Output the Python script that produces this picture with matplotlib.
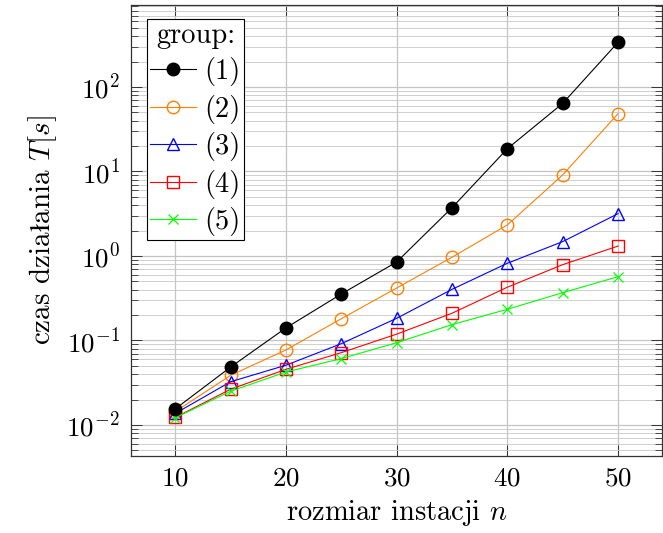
import matplotlib
matplotlib.use("Agg")
import matplotlib.pyplot as plt
from matplotlib.ticker import LogLocator, NullFormatter

plt.rcParams['mathtext.fontset'] = 'cm'
plt.rcParams['font.family'] = ['cmr10', 'DejaVu Serif']
plt.rcParams['axes.formatter.use_mathtext'] = True

# instance sizes and run times
n = [10, 15, 20, 25, 30, 35, 40, 45, 50]
t1 = [0.0155, 0.0485, 0.141, 0.355, 0.849, 3.73, 18.6, 64.0, 338.0]
t2 = [0.0144, 0.0387, 0.0773, 0.181, 0.418, 0.966, 2.33, 9.1, 48.3]
t3 = [0.0137, 0.0325, 0.051, 0.0917, 0.183, 0.403, 0.82, 1.48, 3.17]
t4 = [0.0123, 0.0265, 0.0456, 0.0718, 0.119, 0.21, 0.427, 0.79, 1.31]
t5 = [0.0122, 0.0251, 0.0424, 0.061, 0.0942, 0.154, 0.234, 0.368, 0.569]
labels = ['(1)', '(2)', '(3)', '(4)', '(5)']

fs = 19.5

fig = plt.figure(figsize=(6.63, 5.33), dpi=100)
ax = fig.add_axes([131 / 663, 1 - 456 / 533, 531.3 / 663, (456 - 4.7) / 533])

ax.plot(n, t1, color='black', lw=0.8, marker='o', ms=9, mfc='black', label=labels[0], zorder=5)
ax.plot(n, t2, color=(1, 0.5, 0), lw=0.8, marker='o', ms=9, mfc='none', label=labels[1], zorder=4)
ax.plot(n, t3, color='blue', lw=0.8, marker='^', ms=8.5, mfc='none', label=labels[2], zorder=4)
ax.plot(n, t4, color='red', lw=0.8, marker='s', ms=8.5, mfc='none', label=labels[3], zorder=4)
ax.plot(n, t5, color=(0, 1, 0), lw=0.8, marker='x', ms=7, mew=0.9, label=labels[4], zorder=4)

ax.set_yscale('log')
ax.set_xlim(6, 54)
ax.set_ylim(10 ** -2.367, 10 ** 2.974)
ax.set_xticks([10, 20, 30, 40, 50])
ax.yaxis.set_major_locator(LogLocator(base=10, numticks=20))
ax.yaxis.set_minor_locator(LogLocator(base=10, subs=range(2, 10), numticks=20))
ax.yaxis.set_minor_formatter(NullFormatter())

ax.grid(True, which='major', color='#c4c4c4', lw=0.9)
ax.grid(True, which='minor', axis='y', color='#c8c8c8', lw=0.6)
ax.set_axisbelow(True)

ax.tick_params(which='both', direction='in', top=True, right=True, color='#333333')
ax.tick_params(which='major', length=8, width=0.7, labelsize=fs, pad=8)
ax.tick_params(which='minor', length=5, width=0.6)
ax.tick_params(axis='x', which='minor', bottom=False, top=False)
for sp in ax.spines.values():
    sp.set_color('#333333')
    sp.set_linewidth(0.9)

ax.set_xlabel('rozmiar instacji $n$', fontsize=20.5, labelpad=5)
ax.set_ylabel(r'czas dzia$\mathrm{ł}$ania $T[s]$', fontsize=21, labelpad=5)

leg = ax.legend(title='group:', loc='upper left', bbox_to_anchor=(147 / 663, 1 - 19 / 533),
                bbox_transform=fig.transFigure, borderaxespad=0, fontsize=20.5,
                title_fontsize=20.5, fancybox=False, framealpha=1, edgecolor='black',
                handlelength=1.6, handletextpad=0.3, labelspacing=0.3, borderpad=0.12)
leg.get_frame().set_linewidth(0.8)

fig.savefig('out.png', dpi=100)
